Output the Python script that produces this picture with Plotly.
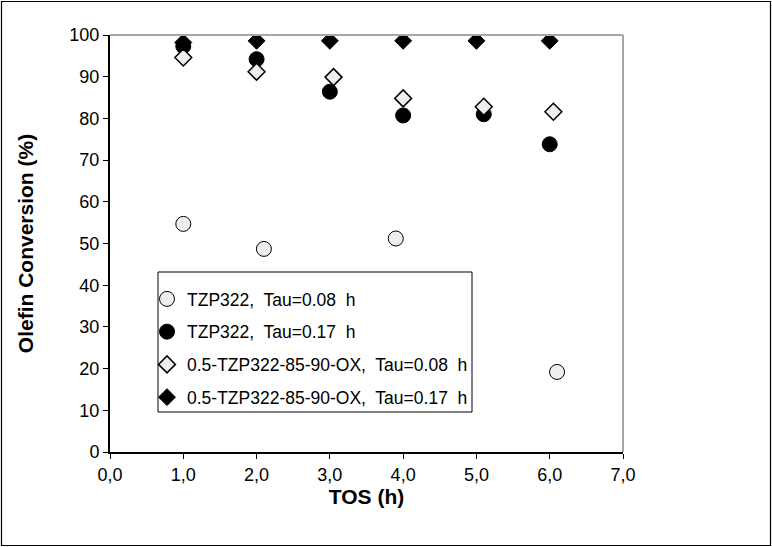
import plotly.graph_objects as go

# Data
tos_a = [1.0, 2.1, 3.9, 6.1]
conv_a = [54.7, 48.7, 51.2, 19.2]

tos_b = [1.0, 2.0, 3.0, 4.0, 5.1, 6.0]
conv_b = [97.3, 94.2, 86.4, 80.7, 81.0, 73.8]

tos_c = [1.0, 2.0, 3.05, 4.0, 5.1, 6.05]
conv_c = [94.6, 91.2, 89.9, 84.8, 82.8, 81.6]

tos_d = [1.0, 2.0, 3.0, 4.0, 5.0, 6.0]
conv_d = [98.2, 98.6, 98.6, 98.6, 98.6, 98.6]

names = [
    "TZP322,\u00a0 Tau=0.08\u00a0 h",
    "TZP322,\u00a0 Tau=0.17\u00a0 h",
    "0.5-TZP322-85-90-OX,\u00a0 Tau=0.08\u00a0 h",
    "0.5-TZP322-85-90-OX,\u00a0 Tau=0.17\u00a0 h",
]

x_ticks = [0, 1, 2, 3, 4, 5, 6, 7]
x_ticktext = ["0,0", "1,0", "2,0", "3,0", "4,0", "5,0", "6,0", "7,0"]
y_ticks = [0, 10, 20, 30, 40, 50, 60, 70, 80, 90, 100]

W, H = 772, 547
ml, mr, mt, mb = 110, 149, 35, 95
pw, ph = W - ml - mr, H - mt - mb

fig = go.Figure()
fig.add_trace(go.Scatter(x=tos_a, y=conv_a, mode="markers", name=names[0], legendgroup="a",
                         marker=dict(symbol="circle", size=15, color="#eeeeee",
                                     line=dict(color="black", width=1))))
fig.add_trace(go.Scatter(x=tos_b, y=conv_b, mode="markers", name=names[1], legendgroup="b",
                         marker=dict(symbol="circle", size=15, color="black",
                                     line=dict(color="black", width=1))))
fig.add_trace(go.Scatter(x=tos_c, y=conv_c, mode="markers", name=names[2], legendgroup="c",
                         marker=dict(symbol="diamond", size=13, color="#eeeeee",
                                     line=dict(color="black", width=1.5))))
fig.add_trace(go.Scatter(x=tos_d, y=conv_d, mode="markers", name=names[3], legendgroup="d",
                         marker=dict(symbol="diamond", size=13, color="black",
                                     line=dict(color="black", width=1))))

def px_x(p):
    return (p - ml) / pw

def px_y(p):
    return (H - mb - p) / ph

shapes = [
    # gray top and right plot-area border
    dict(type="line", xref="paper", yref="paper", x0=0, x1=1, y0=1, y1=1,
         line=dict(color="#a6a6a6", width=2)),
    dict(type="line", xref="paper", yref="paper", x0=1, x1=1, y0=0, y1=1,
         line=dict(color="#a6a6a6", width=2)),
    # outer chart border
    dict(type="rect", xref="paper", yref="paper", x0=px_x(1.5), x1=px_x(W - 1.5),
         y0=px_y(H - 1.5), y1=px_y(1.5), line=dict(color="black", width=1.2)),
    # legend frame
    dict(type="rect", xref="paper", yref="paper", x0=px_x(158), x1=px_x(472),
         y0=px_y(412), y1=px_y(272), line=dict(color="black", width=1),
         fillcolor="white", layer="below"),
]

fig.update_layout(
    width=W, height=H,
    margin=dict(l=ml, r=mr, t=mt, b=mb),
    paper_bgcolor="white", plot_bgcolor="rgba(0,0,0,0)",
    font=dict(family="Liberation Sans, Arial, sans-serif", color="black", size=18),
    shapes=shapes,
    showlegend=True,
    legend=dict(
        x=px_x(147), y=px_y(281), xanchor="left", yanchor="top",
        bgcolor="rgba(0,0,0,0)", borderwidth=0,
        font=dict(size=17.5, color="black"),
        traceorder="grouped", tracegroupgap=7,
        itemwidth=30,
    ),
    xaxis=dict(
        range=[0, 7], tickvals=x_ticks, ticktext=x_ticktext,
        showgrid=False, zeroline=False,
        showline=True, linecolor="black", linewidth=2,
        ticks="outside", ticklen=5, tickcolor="black", tickwidth=1,
        tickfont=dict(size=18),
        title=dict(text="<b>TOS (h)</b>", font=dict(size=21), standoff=3),
    ),
    yaxis=dict(
        range=[0, 100], tickvals=y_ticks,
        showgrid=False, zeroline=False,
        showline=True, linecolor="black", linewidth=2,
        ticks="outside", ticklen=5, tickcolor="black", tickwidth=1,
        tickfont=dict(size=18),
        title=dict(text="<b>Olefin Conversion (%)</b>", font=dict(size=21), standoff=30),
    ),
)

fig.write_html("out.html")
